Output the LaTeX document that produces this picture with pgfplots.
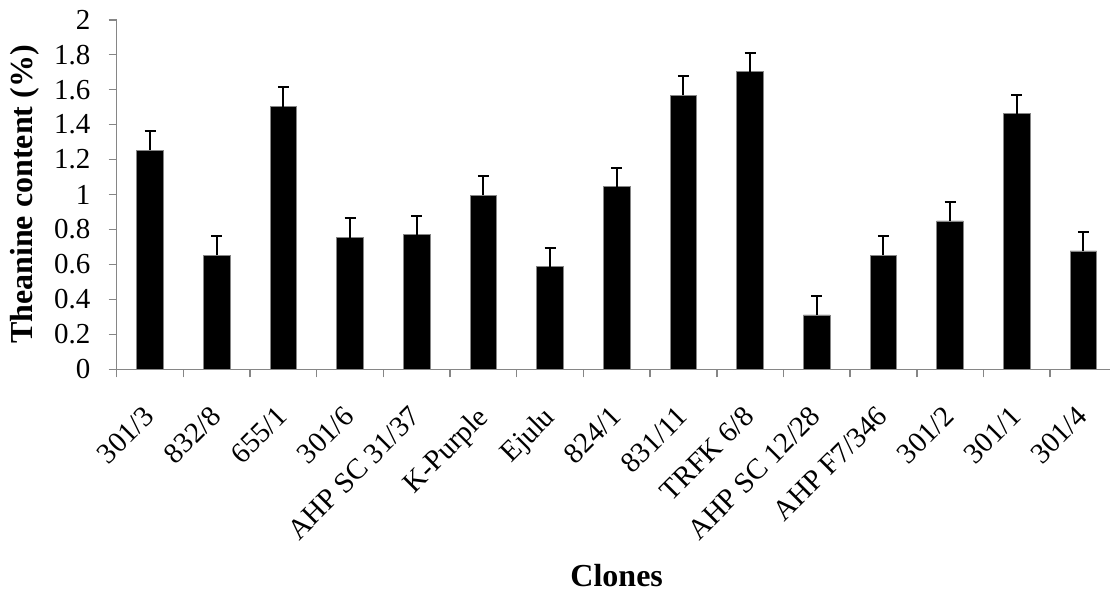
\documentclass[border=0pt]{standalone}
\usepackage{fontspec}
\setmainfont{Liberation Serif}
\usepackage{pgfplots}
\usepackage{pgfplotstable}
\pgfplotsset{compat=1.18}
\definecolor{axisgray}{RGB}{134,134,134}

% Theanine content (%) per clone, with standard error
\pgfplotstableread{
x  y     e
0  1.254 0.110
1  0.653 0.110
2  1.503 0.110
3  0.754 0.110
4  0.769 0.110
5  0.997 0.110
6  0.586 0.110
7  1.044 0.110
8  1.567 0.110
9  1.702 0.110
10 0.311 0.110
11 0.653 0.110
12 0.849 0.110
13 1.462 0.110
14 0.677 0.110
}\theanine

\begin{document}
\begin{tikzpicture}
\path[use as bounding box] (-58.35pt,-110.85pt) rectangle (496.65pt,184.65pt);
\begin{axis}[
  at={(0,0)}, anchor=south west,
  scale only axis, width=500pt, height=174.8pt,
  xmin=-0.5, xmax=14.5, ymin=0, ymax=2,
  axis lines*=left,
  axis line style={axisgray, line width=0.8pt},
  ytick={0,0.2,0.4,0.6,0.8,1,1.2,1.4,1.6,1.8,2},
  xtick={0,1,...,14},
  xticklabels={301/3,832/8,655/1,301/6,AHP SC 31/37,K-Purple,Ejulu,824/1,831/11,TRFK 6/8,AHP SC 12/28,AHP F7/346,301/2,301/1,301/4},
  major x tick style={draw=none},
  minor xtick={-0.5,0.5,...,14.5},
  tick style={axisgray, line width=0.8pt},
  tick align=outside,
  major tick length=4pt, minor tick length=4pt,
  xticklabel shift=7pt,
  x tick label style={rotate=45, anchor=north east, inner sep=1pt, xshift=-6.4pt, yshift=-0.7pt,
    font=\fontsize{14.5}{14.5}\selectfont},
  y tick label style={font=\fontsize{14.5}{14.5}\selectfont, inner sep=2pt, xshift=-7pt},
  /pgf/number format/assume math mode=true,
  ylabel={\bfseries Theanine content (\%)},
  ylabel style={at={(axis description cs:0,0.5)}, anchor=center, yshift=45.9pt,
    font=\fontsize{16}{16}\selectfont},
  xlabel={\bfseries Clones},
  xlabel style={at={(axis description cs:0.5,0)}, anchor=center, yshift=-103pt,
    font=\fontsize{16}{16}\selectfont},
]
\addplot[ybar, bar width=13.3pt, fill=black, draw=axisgray, line width=0.4pt,
  error bars/.cd, y dir=plus, y explicit,
  error bar style={black, line width=1pt},
  error mark options={rotate=90, mark size=2.75pt, line width=1pt, black}]
  table[x=x, y=y, y error=e] {\theanine};
\end{axis}
\end{tikzpicture}
\end{document}
